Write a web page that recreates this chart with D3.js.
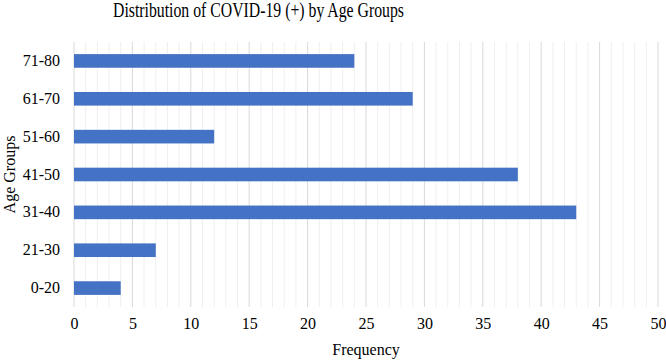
<!DOCTYPE html>
<html>
<head>
<meta charset="utf-8">
<script src="https://cdn.jsdelivr.net/npm/d3@7"></script>
<style>
  body { margin: 0; background: #fff; }
  text { font-family: "Liberation Serif", "Times New Roman", serif; fill: #000; }
</style>
</head>
<body>
<div id="chart"></div>
<script>
var ageGroups = ['71-80', '61-70', '51-60', '41-50', '31-40', '21-30', '0-20'];
var frequency = [24, 29, 12, 38, 43, 7, 4];
var xTicks = [0, 5, 10, 15, 20, 25, 30, 35, 40, 45, 50];

var width = 666;
var height = 361;

var margin = {
    top: 42,
    bottom: 54,
    left: 74,
    right: 8
};

var innerW = width - margin.left - margin.right;
var innerH = height - margin.top - margin.bottom;

var svg = d3.select('#chart')
    .append('svg')
    .attr('width', width)
    .attr('height', height);

var g = svg.append('g')
    .attr('transform', 'translate(' + margin.left + ',' + margin.top + ')');

var x = d3.scaleLinear()
    .domain([0, 50])
    .range([0, innerW]);

var y = d3.scaleBand()
    .domain(ageGroups)
    .range([0, innerH])
    .paddingInner(0.64)
    .paddingOuter(0.32);

// minor gridlines every 1
g.append('g')
    .selectAll('line')
    .data(d3.range(1, 51).filter(function(d) { return d % 5 != 0; }))
    .enter()
    .append('line')
    .attr('x1', function(d) { return x(d); })
    .attr('x2', function(d) { return x(d); })
    .attr('y1', 0)
    .attr('y2', innerH)
    .style('stroke', '#efefef')
    .style('stroke-width', 1);

// major gridlines every 5
g.append('g')
    .selectAll('line')
    .data(xTicks)
    .enter()
    .append('line')
    .attr('x1', function(d) { return x(d); })
    .attr('x2', function(d) { return x(d); })
    .attr('y1', 0)
    .attr('y2', innerH)
    .style('stroke', '#d9d9d9')
    .style('stroke-width', 1);

g.append('g')
    .selectAll('rect')
    .data(frequency)
    .enter()
    .append('rect')
    .attr('x', x(0))
    .attr('y', function(d, j) { return y(ageGroups[j]); })
    .attr('width', function(d) { return x(d) - x(0); })
    .attr('height', y.bandwidth())
    .style('fill', '#4472c4');

var xAxis = g.append('g')
    .attr('transform', 'translate(0,' + innerH + ')')
    .call(d3.axisBottom(x).tickValues(xTicks).tickSize(0).tickPadding(11));
xAxis.select('.domain').remove();
xAxis.selectAll('text')
    .style('font-size', '16px')
    .style('font-family', '"Liberation Serif", serif')
    .attr('fill', '#000');

var yAxis = g.append('g')
    .call(d3.axisLeft(y).tickSize(0).tickPadding(14));
yAxis.select('.domain').remove();
yAxis.selectAll('text')
    .style('font-size', '16px')
    .style('font-family', '"Liberation Serif", serif')
    .attr('fill', '#000');

// title looks squeezed in the source picture
svg.append('text')
    .attr('x', 113)
    .attr('y', 17)
    .attr('textLength', 291)
    .attr('lengthAdjust', 'spacingAndGlyphs')
    .style('font-size', '20px')
    .text('Distribution of COVID-19 (+) by Age Groups');

svg.append('text')
    .attr('x', margin.left + innerW / 2)
    .attr('y', 355)
    .attr('text-anchor', 'middle')
    .style('font-size', '16px')
    .text('Frequency');

svg.append('text')
    .attr('transform', 'translate(15,' + (margin.top + innerH / 2) + ') rotate(-90)')
    .attr('text-anchor', 'middle')
    .style('font-size', '16px')
    .text('Age Groups');
</script>
</body>
</html>
